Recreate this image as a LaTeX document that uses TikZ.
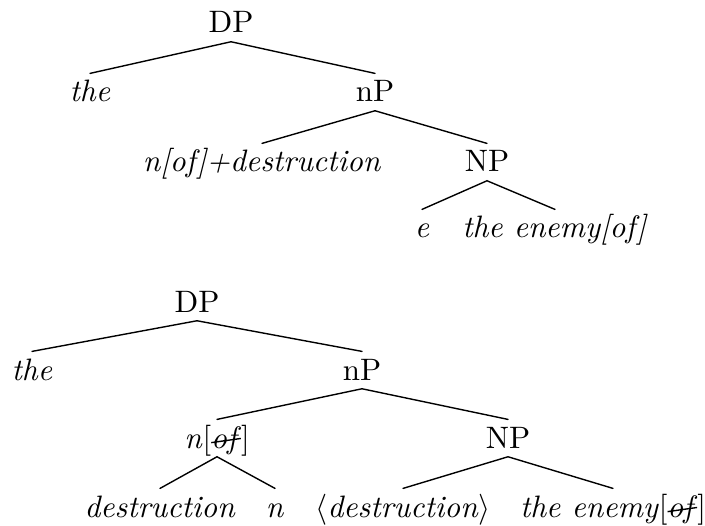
\documentclass[tikz,border=0pt]{standalone}
\tikzset{
  tr/.style={x=0.3226pt, y=-0.3226pt, line width=0.45pt,
             every node/.style={anchor=base, inner sep=0pt, text height=9pt, text depth=2.6pt}},
  br/.style={draw, line cap=round}
}
\newsavebox{\strkbox}
\newcommand{\strk}[1]{\sbox{\strkbox}{\textit{#1}}\rlap{\raisebox{0.35ex}{\rotatebox{8}{\rule{\wd\strkbox}{0.45pt}}}}\usebox{\strkbox}}

\begin{document}
\begin{tikzpicture}[tr]
\useasboundingbox (0,0) rectangle (705,525);
\node (dpa) at (231,33) {DP};
\node (thea) at (90,102) {\textit{the}};
\node (npa) at (375,102) {nP};
\node (nda) at (262,172) {\textit{n[of]+destruction}};
\node (NPa) at (487,172) {NP};
\node (ea) at (422,238) {\textit{e}};
\node (ena) at (555,238) {\textit{the enemy[of]}};
\draw[br] (thea.north) -- (dpa.south) -- (npa.north);
\draw[br] (nda.north) -- (npa.south) -- (NPa.north);
\draw[br] (ea.north) -- (NPa.south) -- (ena.north);

\node (dpb) at (197,312) {DP};
\node (theb) at (32,380) {\textit{the}};
\node (npb) at (362,380) {nP};
\node (nb) at (217,448) {\textit{n}[\strk{of}]};
\node (NPb) at (508,448) {NP};
\node (db) at (160,517) {\textit{destruction}};
\node (nnb) at (275,517) {\textit{n}};
\node (tb) at (403,517) {$\langle$\textit{destruction}$\rangle$};
\node (enb) at (613,517) {\textit{the enemy}[\strk{of}]};
\draw[br] (theb.north) -- (dpb.south) -- (npb.north);
\draw[br] (nb.north) -- (npb.south) -- (NPb.north);
\draw[br] (db.north) -- (nb.south) -- (nnb.north);
\draw[br] (tb.north) -- (NPb.south) -- (enb.north);
\end{tikzpicture}
\end{document}
